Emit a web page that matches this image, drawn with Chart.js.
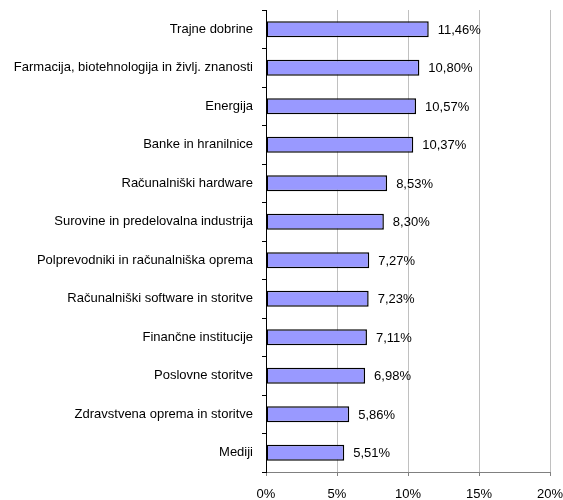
<!DOCTYPE html>
<html>
<head>
<meta charset="utf-8">
<script src="https://cdn.jsdelivr.net/npm/chart.js@4/dist/chart.umd.min.js"></script>
<style>
	html, body { margin: 0; padding: 0; background: #fff; }
	#wrap { width: 563px; height: 500px; }
</style>
</head>
<body>
<div id="wrap"><canvas id="myChart" width="563" height="500"></canvas></div>
<script>
var categories = [
	"Trajne dobrine",
	"Farmacija, biotehnologija in življ. znanosti",
	"Energija",
	"Banke in hranilnice",
	"Računalniški hardware",
	"Surovine in predelovalna industrija",
	"Polprevodniki in računalniška oprema",
	"Računalniški software in storitve",
	"Finančne institucije",
	"Poslovne storitve",
	"Zdravstvena oprema in storitve",
	"Mediji"
];
var values = [11.46, 10.80, 10.57, 10.37, 8.53, 8.30, 7.27, 7.23, 7.11, 6.98, 5.86, 5.51];
var xTicks = [0, 5, 10, 15, 20];

function fmt(v) {
	return v.toFixed(2).replace('.', ',') + '%';
}

var barLabels = {
	id: 'barLabels',
	afterDatasetsDraw: function(chart) {
		var ctx = chart.ctx;
		var meta = chart.getDatasetMeta(0);
		ctx.save();
		ctx.font = '13px "Liberation Sans", Arial, sans-serif';
		ctx.fillStyle = '#000';
		ctx.textBaseline = 'middle';
		ctx.textAlign = 'left';
		for (var i = 0; i < meta.data.length; i++) {
			var bar = meta.data[i];
			ctx.fillText(fmt(values[i]), bar.x + 9, bar.y + 1);
		}
		ctx.restore();
	}
};

Chart.defaults.font.family = '"Liberation Sans", Arial, sans-serif';
Chart.defaults.font.size = 13;
Chart.defaults.color = '#000';

var ctx = document.getElementById('myChart').getContext('2d');
var myBarChart = new Chart(ctx, {
	type: 'bar',
	data: {
		labels: categories,
		datasets: [{
			label: '',
			data: values,
			backgroundColor: '#9999ff',
			borderColor: '#000',
			borderWidth: 1.5,
			borderSkipped: false,
			categoryPercentage: 1,
			barPercentage: 0.42
		}]
	},
	plugins: [barLabels],
	options: {
		indexAxis: 'y',
		responsive: false,
		animation: false,
		layout: { padding: { top: 10, right: 13, left: 0, bottom: 0 } },
		plugins: {
			legend: { display: false },
			tooltip: { enabled: false }
		},
		scales: {
			x: {
				min: 0,
				max: 20,
				afterBuildTicks: function(scale) {
					scale.ticks = xTicks.map(function(v) { return { value: v }; });
				},
				ticks: {
					padding: 11,
					maxRotation: 0,
					callback: function(v) { return v + '%'; }
				},
				grid: {
					color: '#c0c0c0',
					tickColor: '#808080',
					tickLength: 4
				},
				border: { color: '#808080' },
				afterFit: function(scale) {
					scale.height = 28;
					scale.paddingLeft = 0;
					scale.paddingRight = 0;
				}
			},
			y: {
				ticks: { padding: 9 },
				grid: {
					drawOnChartArea: false,
					offset: true,
					tickColor: '#000',
					tickLength: 4
				},
				border: { color: '#000' },
				afterFit: function(scale) {
					scale.width = 266;
					scale.paddingTop = 0;
					scale.paddingBottom = 0;
				}
			}
		}
	}
});
</script>
</body>
</html>
